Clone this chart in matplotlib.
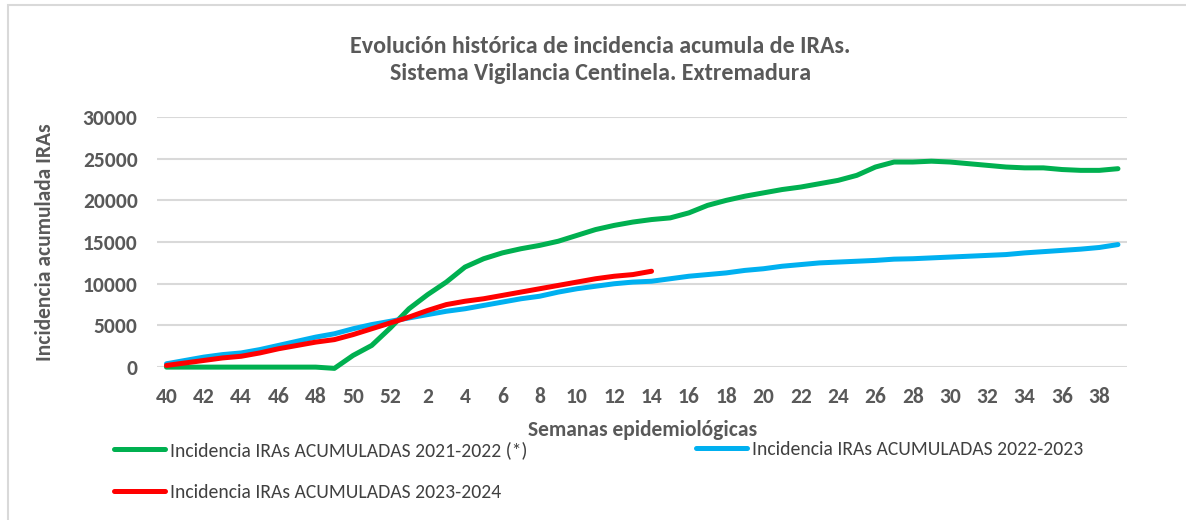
import matplotlib
matplotlib.use("Agg")
import matplotlib.pyplot as plt
from matplotlib.lines import Line2D
from matplotlib.patches import Rectangle

# semanas epidemiológicas (temporada de la semana 40 a la 39)
semanas = list(range(40, 53)) + list(range(1, 40))

ira_2021_2022 = [0, 0, 0, 0, 0, 0, 0, 0, 0, -150, 1400, 2600, 4700,
                 7000, 8700, 10200, 12000, 13000, 13700, 14200, 14600, 15100, 15800,
                 16500, 17000, 17400, 17700, 17900, 18500, 19400, 20000, 20500, 20900,
                 21300, 21600, 22000, 22400, 23000, 24000, 24600, 24600, 24700, 24600,
                 24400, 24200, 24000, 23900, 23900, 23700, 23600, 23600, 23800]

ira_2022_2023 = [400, 800, 1200, 1500, 1700, 2100, 2600, 3100, 3600, 4000, 4600, 5100, 5500,
                 5900, 6300, 6700, 7000, 7400, 7800, 8200, 8500, 9000, 9400,
                 9700, 10000, 10200, 10300, 10600, 10900, 11100, 11300, 11600, 11800,
                 12100, 12300, 12500, 12600, 12700, 12800, 12950, 13000, 13100, 13200,
                 13300, 13400, 13500, 13700, 13850, 14000, 14150, 14350, 14700]

ira_2023_2024 = [200, 500, 800, 1100, 1300, 1700, 2200, 2600, 3000, 3300, 3900, 4600, 5300,
                 6000, 6800, 7500, 7900, 8200, 8600, 9000, 9400, 9800, 10200,
                 10600, 10900, 11100, 11500]

series = [
    ("Incidencia IRAs ACUMULADAS 2021-2022 (*)", ira_2021_2022, "#00b050"),
    ("Incidencia IRAs ACUMULADAS 2022-2023", ira_2022_2023, "#00b0f0"),
    ("Incidencia IRAs ACUMULADAS 2023-2024", ira_2023_2024, "#ff0000"),
]

plt.rcParams["font.family"] = ["Carlito", "Liberation Sans Narrow", "Liberation Sans", "DejaVu Sans"]
gris = "#595959"

fig = plt.figure(figsize=(11.86, 5.2), dpi=100)
# marco del gráfico (borde gris arriba e izquierda)
fig.patches.append(Rectangle((0.0067, -0.1), 1.2, 1.09, transform=fig.transFigure,
                             fill=False, edgecolor="#d9d9d9", linewidth=1.5))
ax = fig.add_axes([0.1325, 0.294, 0.818, 0.481])

for nombre, valores, color in series:
    x = list(range(len(valores)))
    ax.plot(x, valores, color=color, linewidth=3.6, solid_capstyle="round",
            solid_joinstyle="round", clip_on=False, zorder=3)

ax.set_xlim(-0.5, 51.5)
ax.set_ylim(0, 30000)
ax.set_yticks(range(0, 30001, 5000))
ax.set_xticks(range(0, len(semanas), 2))
ax.set_xticklabels([str(s) for s in semanas[::2]])
ax.grid(axis="y", color="#d9d9d9", linewidth=1.5)
ax.set_axisbelow(True)
for s in ax.spines.values():
    s.set_visible(False)
ax.tick_params(length=0, labelsize=15.5, labelcolor=gris)
ax.tick_params(axis="x", pad=14)
ax.tick_params(axis="y", pad=14)
for t in ax.get_xticklabels() + ax.get_yticklabels():
    t.set_fontweight("bold")

ax.set_xlabel("Semanas epidemiológicas", fontsize=15.5, fontweight="bold", color=gris, labelpad=10)
ax.set_ylabel("Incidencia acumulada IRAs", fontsize=15.5, fontweight="bold", color=gris, labelpad=20)

fig.text(0.506, 0.885, "Evolución histórica de incidencia acumula de IRAs.\nSistema Vigilancia Centinela. Extremadura",
         ha="center", va="center", fontsize=17.3, fontweight="bold", color=gris, linespacing=1.35)

posiciones = [(0.081, 0.135), (0.572, 0.135), (0.081, 0.053)]
for (nombre, valores, color), (px, py) in zip(series, posiciones):
    h = Line2D([], [], color=color, linewidth=3.6, solid_capstyle="round")
    fig.legend([h], [nombre], loc="center left", bbox_to_anchor=(px, py), frameon=False,
               handlelength=2.6, handletextpad=0.25, fontsize=14.1, labelcolor="#404040")

fig.savefig("out.png", dpi=100)
